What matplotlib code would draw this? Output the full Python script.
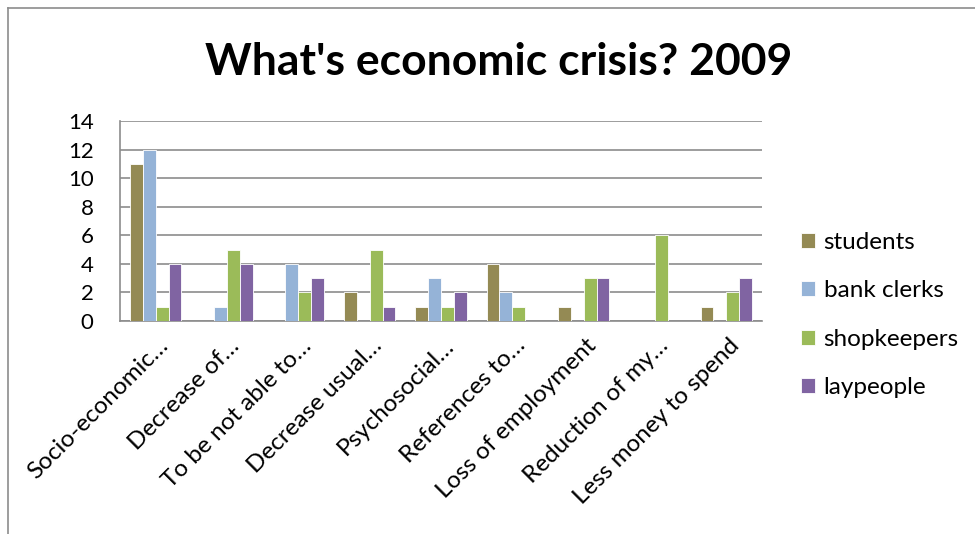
import matplotlib
matplotlib.use("Agg")
import matplotlib.pyplot as plt
from matplotlib.lines import Line2D
from matplotlib.transforms import ScaledTranslation
import numpy as np

plt.rcParams['font.family'] = ['Lato', 'DejaVu Sans']

categories = ["Socio-economic…", "Decrease of…", "To be not able to…",
              "Decrease usual…", "Psychosocial…", "References to…",
              "Loss of employment", "Reduction of my…", "Less money to spend"]
students = [11, 0, 0, 2, 1, 4, 1, 0, 1]
bank_clerks = [12, 1, 4, 0, 3, 2, 0, 0, 0]
shopkeepers = [1, 5, 2, 5, 1, 1, 3, 6, 2]
laypeople = [4, 4, 3, 1, 2, 0, 3, 0, 3]

series = [("students", students, "#948A54"),
          ("bank clerks", bank_clerks, "#95B3D7"),
          ("shopkeepers", shopkeepers, "#9BBB59"),
          ("laypeople", laypeople, "#8064A2")]

W, H = 975, 534
fig = plt.figure(figsize=(W / 100, H / 100), dpi=100)
ax = fig.add_axes([120 / W, 1 - 321 / H, (762 - 120) / W, (321 - 121) / H])

x = np.arange(len(categories))
bw = 0.18
for i, (name, vals, col) in enumerate(series):
    ax.bar(x + (i - 1.5) * bw, vals, width=bw, color=col, label=name,
           edgecolor="white", linewidth=0.6, zorder=3)

ax.set_xlim(-0.5, len(categories) - 0.5)
ax.set_ylim(0, 14)
ax.set_yticks(range(0, 15, 2))
ax.yaxis.grid(True, color="#8c8c8c", linewidth=1.2, zorder=0)
for s in ["top", "right"]:
    ax.spines[s].set_visible(False)
for s in ["left", "bottom"]:
    ax.spines[s].set_color("#8c8c8c")
    ax.spines[s].set_linewidth(1.2)
ax.tick_params(axis="y", length=0, labelsize=16, pad=19)
ax.tick_params(axis="x", length=0, labelsize=17.5, pad=10)
ax.set_xticks(x)
ax.set_xticklabels(categories, rotation=45, ha="right", va="top",
                   rotation_mode="anchor")
shift = ScaledTranslation(2 / 100, 0, fig.dpi_scale_trans)
for lbl in ax.get_xticklabels():
    lbl.set_transform(lbl.get_transform() + shift)

fig.text(499 / W, 1 - 62 / H, "What's economic crisis? 2009",
         ha="center", va="center", fontsize=32, fontweight="bold")

ax.legend(loc="center left", bbox_to_anchor=(801 / W, 1 - 315 / H),
          bbox_transform=fig.transFigure, frameon=False, fontsize=17.5,
          handlelength=0.58, handleheight=0.58, handletextpad=0.35,
          labelspacing=1.13, borderaxespad=0, borderpad=0)

# chart area border
fig.add_artist(Line2D([8 / W, 1], [1 - 8 / H, 1 - 8 / H], color="#8c8c8c", lw=1.2,
                      transform=fig.transFigure))
fig.add_artist(Line2D([8 / W, 8 / W], [0, 1 - 8 / H], color="#8c8c8c", lw=1.2,
                      transform=fig.transFigure))

fig.savefig("out.png", dpi=100)
